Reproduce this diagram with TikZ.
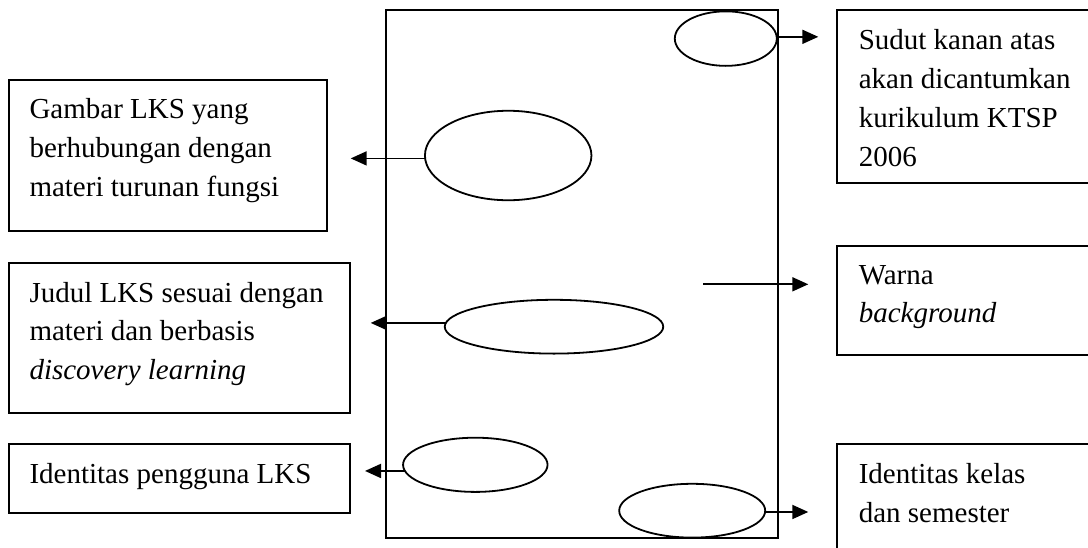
\documentclass[tikz,border=0pt]{standalone}
\usepackage{fontspec}
\setmainfont{Liberation Serif}
\usetikzlibrary{arrows.meta,shapes.geometric}

\tikzset{
  stroke/.style={line width=1.8pt},
  sheet/.style={stroke, draw, rectangle, inner sep=0pt, outer sep=0pt,
                anchor=north west},
  oval/.style={stroke, draw, ellipse, inner sep=0pt, outer sep=0pt},
  infobox/.style={stroke, draw, rectangle, inner sep=0pt, outer sep=0pt,
                  anchor=north west},
  infotext/.style={anchor=north west, inner sep=0pt, outer sep=0pt,
                   align=left, font=\fontsize{29}{38.8}\selectfont},
  pointer/.style={stroke, -{Triangle[length=16pt,width=14pt]}},
}

\begin{document}
\begin{tikzpicture}[x=1pt,y=-1pt]
\useasboundingbox (0,0) rectangle (1088,547);
\fill[white] (0,0) rectangle (1088,547);
\clip (0,0) rectangle (1088,547);

% page outline of the worksheet cover
\node[sheet, minimum width=392pt, minimum height=528pt] (page) at (385.7,10.3) {};

% marked regions on the cover
\node[oval, minimum width=102pt, minimum height=54.5pt] (e1) at (725.8,38.6) {};
\node[oval, minimum width=166.5pt, minimum height=89.5pt] (e2) at (508.2,155.5) {};
\node[oval, minimum width=218.5pt, minimum height=53.8pt] (e3) at (554,326.7) {};
\node[oval, minimum width=144.5pt, minimum height=54.2pt] (e4) at (475.3,464.8) {};
\node[oval, minimum width=146pt, minimum height=53.8pt] (e5) at (692.2,510.7) {};

% description boxes, left column
\node[infobox, minimum width=317.4pt, minimum height=151pt] (bA) at (9.3,80) {};
\node[infobox, minimum width=341pt, minimum height=150pt] (bB) at (9.3,262.7) {};
\node[infobox, minimum width=341pt, minimum height=69pt] (bC) at (9.3,444.3) {};

% description boxes, right column
\node[infobox, minimum width=263pt, minimum height=172.7pt] (bD) at (837.3,10) {};
\node[infobox, minimum width=263pt, minimum height=109pt] (bE) at (837.3,246) {};
\node[infobox, minimum width=263pt, minimum height=120pt] (bF) at (837.3,444.3) {};

% box texts
\node[infotext] (tA) at ([shift={(20.2,18.5)}]bA.north west)
  {Gambar LKS yang\\berhubungan dengan\\materi turunan fungsi};
\node[infotext] (tB) at ([shift={(20.2,19.2)}]bB.north west)
  {Judul LKS sesuai dengan\\materi dan berbasis\\\textit{discovery learning}};
\node[infotext] (tC) at ([shift={(20.2,19.2)}]bC.north west)
  {Identitas pengguna LKS};
\node[infotext] (tD) at ([shift={(21.5,19.5)}]bD.north west)
  {Sudut kanan atas\\akan dicantumkan\\kurikulum KTSP\\2006};
\node[infotext] (tE) at ([shift={(21.5,19.2)}]bE.north west)
  {Warna\\\textit{background}};
\node[infotext] (tF) at ([shift={(21.5,19.2)}]bF.north west)
  {Identitas kelas\\dan semester};

% arrow end points
\coordinate (p1) at (818.3,36.7);
\coordinate (p2) at (350.7,158.3);
\coordinate (p3) at (370.7,322.7);
\coordinate (p4) at (365,470.7);
\coordinate (p5) at (808.3,512.3);
\coordinate (q0) at (703.3,284.3);
\coordinate (q1) at (808.3,284.3);

% pointers
\draw[pointer] (e1.2) -- (e1.2 -| p1);
\draw[pointer] (e2.182) -- (e2.182 -| p2);
\draw[pointer] (e3.178) -- (e3.178 -| p3);
\draw[pointer] (e4.185) -- (e4.185 -| p4);
\draw[pointer] (e5.-1) -- (e5.-1 -| p5);
\draw[pointer] (q0) -- (q1);
\end{tikzpicture}
\end{document}
